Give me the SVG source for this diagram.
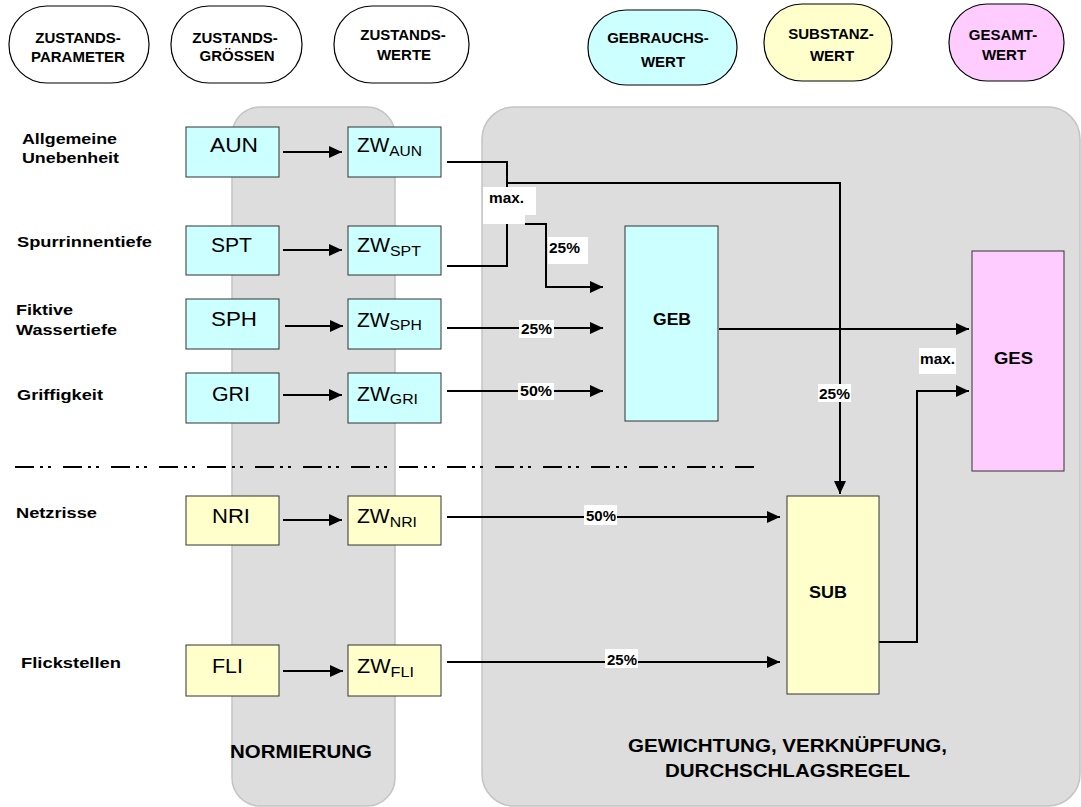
<svg xmlns="http://www.w3.org/2000/svg" width="1081" height="807" viewBox="0 0 1081 807">
<defs>
<style>
.t{font-family:"Liberation Sans",Arial,sans-serif;fill:#000}
.b{font-weight:bold}
.pill{fill:#fff;stroke:#000;stroke-width:1.2}
.box{stroke:#333;stroke-width:1}
.cy{fill:#ccffff}.ye{fill:#ffffcc}.pk{fill:#ffccff}
.ln{fill:none;stroke:#000;stroke-width:2}
.ar{fill:none;stroke:#000;stroke-width:2;marker-end:url(#ah)}
.wb{fill:#fff}
.panel{fill:#dddddd;stroke:#c4c4c4;stroke-width:1.5}
</style>
<marker id="ah" markerUnits="userSpaceOnUse" markerWidth="14" markerHeight="14" refX="13" refY="6" orient="auto">
<path d="M0,0 L13,6 L0,12 z" fill="#000"/>
</marker>
</defs>
<rect width="1081" height="807" fill="#fff"/>

<g id="panels">
<rect class="panel" x="232" y="107" width="163" height="699" rx="28" ry="28"/>
<rect class="panel" x="482" y="107" width="598" height="699" rx="32" ry="32"/>
</g>

<g id="headers" class="t b" font-size="15" text-anchor="middle">
<g id="h-param"><rect class="pill" x="9" y="6" width="140" height="77" rx="38" ry="38"/><text x="78" y="43">ZUSTANDS-</text><text x="78" y="62">PARAMETER</text></g>
<g id="h-groessen"><rect class="pill" x="171" y="6" width="131" height="77" rx="38" ry="38"/><text x="235" y="43">ZUSTANDS-</text><text x="237" y="61">GRÖSSEN</text></g>
<g id="h-werte"><rect class="pill" x="334" y="6" width="135" height="77" rx="38" ry="38"/><text x="403" y="40">ZUSTANDS-</text><text x="404" y="60">WERTE</text></g>
<g id="h-gebrauch"><rect class="pill cy" x="588" y="10" width="149" height="75" rx="38" ry="37" stroke="#000" stroke-width="1.2"/><text x="658" y="43">GEBRAUCHS-</text><text x="663" y="67">WERT</text></g>
<g id="h-substanz"><rect class="pill ye" x="764" y="4" width="128" height="77" rx="38" ry="38" stroke="#000" stroke-width="1.2"/><text x="831" y="39">SUBSTANZ-</text><text x="832" y="61">WERT</text></g>
<g id="h-gesamt"><rect class="pill pk" x="949" y="4" width="115" height="77" rx="38" ry="38" stroke="#000" stroke-width="1.2"/><text x="1003" y="40">GESAMT-</text><text x="1004" y="60">WERT</text></g>
</g>

<g id="labels" class="t b" font-size="15">
<text x="22" y="144" textLength="95" lengthAdjust="spacingAndGlyphs">Allgemeine</text>
<text x="22" y="163" textLength="97" lengthAdjust="spacingAndGlyphs">Unebenheit</text>
<text x="17" y="247" textLength="135" lengthAdjust="spacingAndGlyphs">Spurrinnentiefe</text>
<text x="16" y="315" textLength="57" lengthAdjust="spacingAndGlyphs">Fiktive</text>
<text x="16" y="335" textLength="101" lengthAdjust="spacingAndGlyphs">Wassertiefe</text>
<text x="17" y="400" textLength="86" lengthAdjust="spacingAndGlyphs">Griffigkeit</text>
<text x="16" y="518" textLength="81" lengthAdjust="spacingAndGlyphs">Netzrisse</text>
<text x="21" y="668" textLength="100" lengthAdjust="spacingAndGlyphs">Flickstellen</text>
</g>

<line x1="15" y1="467" x2="757" y2="467" stroke="#000" stroke-width="1.8" stroke-dasharray="19 6 3 5 3 12"/>

<g id="connectors">
<line class="ar" x1="283" y1="152" x2="342" y2="152"/>
<line class="ar" x1="283" y1="250" x2="342" y2="250"/>
<line class="ar" x1="285" y1="326" x2="343" y2="326"/>
<line class="ar" x1="283" y1="395" x2="342" y2="395"/>
<line class="ar" x1="283" y1="520" x2="342" y2="520"/>
<line class="ar" x1="283" y1="671" x2="343" y2="671"/>
<polyline class="ln" points="447,162 507,162 507,266 447,266"/>
<polyline class="ar" points="507,183 840,183 840,494"/>
<polyline class="ar" points="525,224 546,224 546,287 603,287"/>
<line class="ar" x1="447" y1="328" x2="603" y2="328"/>
<line class="ar" x1="447" y1="391" x2="603" y2="391"/>
<line class="ar" x1="719" y1="329" x2="969" y2="329"/>
<line class="ar" x1="447" y1="517" x2="780" y2="517"/>
<line class="ar" x1="447" y1="662" x2="780" y2="662"/>
<polyline class="ar" points="879,642 917,642 917,391 969,391"/>
</g>

<g id="conn-labels" class="t b" font-size="14">
<rect class="wb" x="483" y="187" width="53" height="28"/>
<rect class="wb" x="483" y="214" width="42" height="10"/>
<text x="489" y="203" textLength="35" lengthAdjust="spacingAndGlyphs">max.</text>
<rect class="wb" x="548" y="237" width="40" height="27"/>
<text x="549" y="253" textLength="31" lengthAdjust="spacingAndGlyphs">25%</text>
<rect class="wb" x="519" y="320" width="35" height="18"/>
<text x="521" y="334" textLength="31" lengthAdjust="spacingAndGlyphs">25%</text>
<rect class="wb" x="518" y="383" width="36" height="17"/>
<text x="520" y="396" textLength="32" lengthAdjust="spacingAndGlyphs">50%</text>
<rect class="wb" x="584" y="505" width="33" height="20"/>
<text x="586" y="521" textLength="30" lengthAdjust="spacingAndGlyphs">50%</text>
<rect class="wb" x="605" y="649" width="33" height="19"/>
<text x="607" y="665" textLength="30" lengthAdjust="spacingAndGlyphs">25%</text>
<rect class="wb" x="818" y="384" width="33" height="18"/>
<text x="819" y="399" textLength="31" lengthAdjust="spacingAndGlyphs">25%</text>
<rect class="wb" x="919" y="348" width="37" height="26"/>
<text x="920" y="364" textLength="35" lengthAdjust="spacingAndGlyphs">max.</text>
</g>

<g class="t" font-size="20">
<g id="n-aun"><rect class="box cy" x="186" y="127" width="93" height="50"/><text x="210" y="152" textLength="48" lengthAdjust="spacingAndGlyphs">AUN</text></g>
<g id="n-spt"><rect class="box cy" x="186" y="226" width="93" height="49"/><text x="211" y="252" textLength="41" lengthAdjust="spacingAndGlyphs">SPT</text></g>
<g id="n-sph"><rect class="box cy" x="186" y="299" width="93" height="50"/><text x="211" y="326" textLength="46" lengthAdjust="spacingAndGlyphs">SPH</text></g>
<g id="n-gri"><rect class="box cy" x="186" y="373" width="93" height="50"/><text x="212" y="401" textLength="38" lengthAdjust="spacingAndGlyphs">GRI</text></g>
<g id="n-nri"><rect class="box ye" x="186" y="496" width="93" height="49"/><text x="212" y="523" textLength="38" lengthAdjust="spacingAndGlyphs">NRI</text></g>
<g id="n-fli"><rect class="box ye" x="186" y="645" width="93" height="51"/><text x="212" y="673" textLength="31" lengthAdjust="spacingAndGlyphs">FLI</text></g>

<g id="n-zwaun"><rect class="box cy" x="348" y="127" width="93" height="50"/><text x="357" y="152" textLength="65" lengthAdjust="spacingAndGlyphs">ZW<tspan font-size="15" dy="4">AUN</tspan></text></g>
<g id="n-zwspt"><rect class="box cy" x="348" y="226" width="93" height="49"/><text x="357" y="252" textLength="64" lengthAdjust="spacingAndGlyphs">ZW<tspan font-size="15" dy="4">SPT</tspan></text></g>
<g id="n-zwsph"><rect class="box cy" x="348" y="299" width="93" height="50"/><text x="357" y="327" textLength="65" lengthAdjust="spacingAndGlyphs">ZW<tspan font-size="15" dy="3">SPH</tspan></text></g>
<g id="n-zwgri"><rect class="box cy" x="348" y="373" width="93" height="50"/><text x="357" y="401" textLength="61" lengthAdjust="spacingAndGlyphs">ZW<tspan font-size="15" dy="3">GRI</tspan></text></g>
<g id="n-zwnri"><rect class="box ye" x="348" y="496" width="93" height="49"/><text x="357" y="523" textLength="60" lengthAdjust="spacingAndGlyphs">ZW<tspan font-size="15" dy="4">NRI</tspan></text></g>
<g id="n-zwfli"><rect class="box ye" x="348" y="645" width="93" height="51"/><text x="357" y="673" textLength="57" lengthAdjust="spacingAndGlyphs">ZW<tspan font-size="15" dy="4">FLI</tspan></text></g>
</g>

<g class="t b" font-size="16">
<g id="n-geb"><rect class="box cy" x="625" y="226" width="93" height="195"/><text x="653" y="325" textLength="38" lengthAdjust="spacingAndGlyphs">GEB</text></g>
<g id="n-ges"><rect class="box pk" x="972" y="251" width="92" height="220"/><text x="994" y="364" textLength="39" lengthAdjust="spacingAndGlyphs">GES</text></g>
<g id="n-sub"><rect class="box ye" x="787" y="496" width="92" height="198"/><text x="809" y="598" textLength="38" lengthAdjust="spacingAndGlyphs">SUB</text></g>
</g>

<g id="region-labels" class="t b" font-size="18">
<text x="230" y="758" textLength="142" lengthAdjust="spacingAndGlyphs">NORMIERUNG</text>
<text x="628" y="752" textLength="319" lengthAdjust="spacingAndGlyphs">GEWICHTUNG, VERKNÜPFUNG,</text>
<text x="665" y="777" textLength="245" lengthAdjust="spacingAndGlyphs">DURCHSCHLAGSREGEL</text>
</g>
</svg>
